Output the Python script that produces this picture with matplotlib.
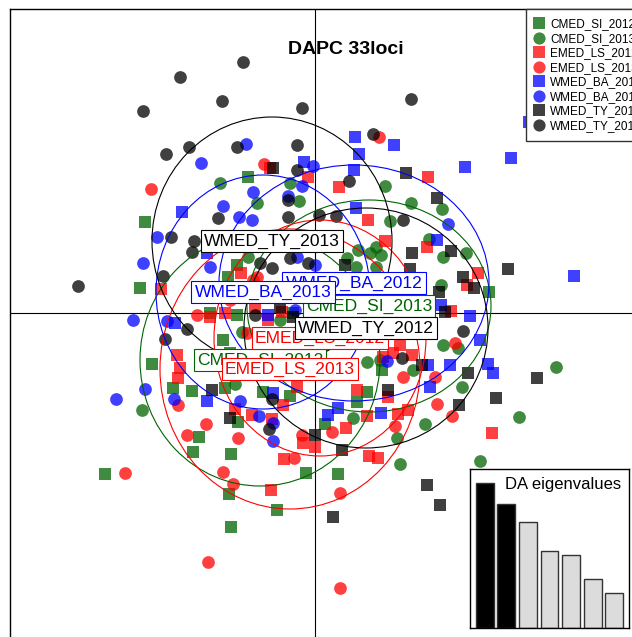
import matplotlib
matplotlib.use("Agg")
import matplotlib.pyplot as plt
from matplotlib.patches import Ellipse
from matplotlib.lines import Line2D

plt.rcParams['font.family'] = ['Liberation Sans', 'DejaVu Sans']

# ---------------- data (LD1, LD2 scores) ----------------
groups = ["CMED_SI_2012", "CMED_SI_2013", "EMED_LS_2012", "EMED_LS_2013",
          "WMED_BA_2012", "WMED_BA_2013", "WMED_TY_2012", "WMED_TY_2013"]
group_colors = ["darkgreen", "darkgreen", "red", "red", "blue", "blue", "black", "black"]
group_markers = ["s", "o", "s", "o", "s", "o", "s", "o"]

si12 = [(-6.7, 13.6), (-17.0, 9.1), (-17.5, 2.5), (-7.8, 4.8), (-8.7, 3.6), (17.4, 2.1),
        (-16.3, -5.1), (-14.2, -7.5), (-12.3, -7.8), (-9.0, -7.5), (-7.7, -10.9), (-5.2, -7.9),
        (-2.5, -8.3), (-11.6, -12.4), (-12.2, -13.9), (-8.4, -14.1), (-21.0, -16.1), (-0.9, -16.0),
        (-8.6, -18.1), (-3.8, -19.7), (-8.4, -21.4), (-9.2, -2.7), (-8.5, -4.0), (-7.8, -0.2),
        (-2.2, 0.0), (-10.5, 0.0), (5.2, -7.9), (6.7, -5.7), (4.2, -8.9), (1.0, -11.1),
        (2.3, -16.1), (-5.3, 2.3), (-1.5, 2.3)]
si13 = [(-9.5, 13.0), (-5.8, 11.0), (-2.5, 13.0), (-1.6, 11.2), (-6.7, 5.6), (-7.3, -1.9),
        (-8.0, -7.1), (-17.3, -9.7), (7.0, 12.7), (9.6, 11.0), (12.7, 10.4), (7.5, 9.2),
        (11.4, 7.4), (12.8, 5.6), (15.1, 6.0), (4.3, 6.3), (6.1, 6.6), (6.6, 5.8), (5.5, 6.0),
        (4.1, 4.6), (6.1, 4.6), (12.6, 2.8), (6.5, -4.7), (5.2, -4.9), (12.8, -3.2), (14.3, -3.5),
        (9.8, -5.7), (14.7, -7.4), (24.1, -5.4), (20.4, -10.4), (16.5, -14.8), (8.5, -15.1),
        (11.0, -11.1), (8.2, -12.5), (3.8, -10.5), (3.2, 5.5), (-3.5, -0.7), (1.5, 1.5)]
ls12 = [(-4.5, 14.5), (-0.7, 13.6), (-15.4, 2.4), (-7.4, 4.0), (2.4, 12.6), (11.3, 13.6),
        (5.3, 9.3), (7.0, 7.2), (11.2, 6.6), (16.3, 4.0), (15.2, 2.8), (13.6, 0.2), (8.5, -3.2),
        (9.7, -4.2), (7.3, -8.4), (4.2, -7.7), (9.3, -9.7), (8.3, -10.1), (5.2, -10.3),
        (3.1, -11.5), (17.7, -12.0), (-1.2, -13.0), (0.0, -13.4), (5.4, -14.3), (6.3, -14.5),
        (-13.8, -4.2), (-13.5, -5.5), (-13.7, -6.5), (-8.0, -9.6), (-6.3, -10.2), (-4.3, -10.6),
        (-3.2, -9.2), (-3.1, -14.6), (-4.4, -17.7), (-9.0, 0.0), (-10.5, -0.4), (-4.7, -0.7),
        (-3.3, 0.1), (-6.0, 0.6), (6.8, -4.4), (7.8, -4.0), (-1.8, -7.4)]
ls13 = [(-5.1, 14.9), (-16.4, 12.4), (6.4, 17.6), (-5.8, 3.6), (14.0, -3.0), (8.8, -6.4),
        (12.0, -6.4), (12.2, -9.1), (13.7, -10.3), (8.0, -11.3), (1.7, -11.9), (2.5, -18.0),
        (2.5, -27.5), (-13.7, -9.2), (-10.9, -11.1), (-12.8, -12.2), (-7.7, -12.5), (-1.3, -12.2),
        (-2.1, -14.5), (-19.0, -16.0), (-9.2, -15.9), (-8.2, -17.1), (-10.7, -24.9), (-11.8, -0.2),
        (-6.8, -2.0), (-6.2, 3.3), (-8.5, 1.3)]
ba12 = [(-1.1, 15.1), (-13.3, 10.1), (-10.8, 6.0), (4.0, 17.6), (7.9, 16.8), (4.4, 15.9),
        (3.9, 14.3), (15.0, 14.6), (19.6, 15.5), (21.4, 19.1), (4.1, 10.5), (12.2, 7.3),
        (25.9, 3.7), (12.6, 0.8), (15.5, -0.3), (16.5, -2.7), (17.3, -5.1), (17.8, -6.0),
        (13.5, -5.2), (11.3, -5.2), (11.5, -7.4), (2.3, -9.5), (1.3, -10.2), (6.6, -10.0),
        (-14.0, -1.0), (-10.8, -8.8), (-4.2, -8.0), (-4.7, -0.2)]
ba13 = [(-6.9, 16.9), (-11.4, 15.0), (-0.2, 14.7), (-6.2, 12.1), (-2.7, 11.7), (-1.3, 12.7),
        (-9.2, 10.7), (-7.6, 9.6), (-6.3, 9.3), (-15.8, 7.6), (-17.2, 5.0), (-10.5, 4.6),
        (-1.8, 5.6), (0.0, 4.8), (13.3, 8.9), (7.2, -4.8), (-18.2, -0.7), (-14.8, -0.8),
        (-17.0, -7.6), (-19.9, -8.6), (-14.1, -8.6), (-7.5, -8.8), (-5.6, -10.3), (-4.2, -11.0),
        (-4.2, -12.8), (-2.0, 0.3)]
ty12 = [(-4.2, 14.5), (9.1, 14.0), (12.2, 11.5), (13.6, 6.2), (9.7, 6.0), (9.5, 4.4),
        (19.3, 4.4), (14.8, 3.6), (15.9, 2.5), (12.4, 2.1), (13.0, 0.1), (3.0, 4.8), (10.7, -5.2),
        (15.3, -6.0), (22.2, -6.5), (18.1, -8.5), (14.4, -9.2), (7.3, -7.7), (2.7, -13.7),
        (0.0, -12.2), (11.2, -17.2), (12.5, -19.2), (1.8, -20.4), (-10.3, -7.7), (-8.5, -10.5),
        (-3.5, 0.6), (-2.2, -0.4)]
ty13 = [(-7.2, 25.1), (-13.5, 23.6), (-9.3, 21.2), (-17.2, 20.2), (-1.3, 20.5), (9.6, 21.4),
        (5.8, 17.9), (-12.6, 16.6), (-14.9, 15.9), (-7.8, 16.6), (-1.8, 16.8), (-1.8, 14.3),
        (-9.7, 9.5), (-2.7, 9.6), (-2.7, 11.3), (-14.4, 7.6), (-12.1, 7.2), (-12.3, 6.1),
        (-15.2, 3.7), (-23.7, 2.7), (-4.3, 4.5), (-5.5, 5.0), (-2.5, 5.5), (-0.7, 5.0),
        (3.4, 13.2), (2.1, 9.7), (0.4, 9.8), (8.8, 9.3), (14.8, -1.8), (8.7, -4.5),
        (-12.8, -1.6), (-15.0, -2.6), (-4.3, -8.6), (-4.6, -11.6), (-6.0, -0.2)]
points = [si12, si13, ls12, ls13, ba12, ba13, ty12, ty13]

# group centres (label positions) and ellipse half-axes
center_x = [-5.5, 5.4, 0.5, -2.5, 3.9, -5.2, 5.1, -4.3]
center_y = [-4.7, 0.7, -2.5, -5.6, 3.0, 2.1, -1.5, 7.2]
ell_rx = [12.0, 12.2, 10.6, 13.0, 13.5, 10.7, 12.2, 12.0]
ell_ry = [12.6, 10.6, 11.8, 14.0, 11.8, 11.7, 12.0, 12.4]

eigenvalues = [14.5, 12.4, 10.6, 7.7, 7.3, 4.9, 3.5]
n_retained = 2

# ---------------- figure ----------------
W, H = 632, 637
fig = plt.figure(figsize=(W / 100, H / 100), dpi=100)
ax = fig.add_axes([10 / W, 0, 622 / W, 628 / H])
ax.set_xlim(-30.5, 31.7)
ax.set_ylim(-32.4, 30.4)
ax.set_xticks([])
ax.set_yticks([])
for s in ["right", "bottom"]:
    ax.spines[s].set_visible(False)
for s in ["left", "top"]:
    ax.spines[s].set_linewidth(1.0)

ax.axhline(0, color="black", lw=0.8, zorder=1)
ax.axvline(0, color="black", lw=0.8, zorder=1)

for pts, col, mk in zip(points, group_colors, group_markers):
    xs = [p[0] for p in pts]
    ys = [p[1] for p in pts]
    ax.scatter(xs, ys, s=84 if mk == "o" else 78, marker=mk, color=col, alpha=0.75,
               linewidths=0, zorder=2)

for cx, cy, rx, ry, col in zip(center_x, center_y, ell_rx, ell_ry, group_colors):
    ax.add_patch(Ellipse((cx, cy), 2 * rx, 2 * ry, fill=False, ec=col, lw=0.8, zorder=3))

for i, (name, cx, cy, col) in enumerate(zip(groups, center_x, center_y, group_colors)):
    ax.text(cx, cy, name, ha="center", va="center", fontsize=12.6, color=col, zorder=10 + i,
            bbox=dict(boxstyle="square,pad=0.18", fc="white", ec=col, lw=0.8))

fig.text(346 / W, 1 - 50 / H, "DAPC 33loci", ha="center", va="center",
         fontsize=14, fontweight="bold")

handles = [Line2D([], [], linestyle="none", marker=mk, markersize=8.8, color=col, alpha=0.75,
                  markeredgewidth=0)
           for col, mk in zip(group_colors, group_markers)]
leg = fig.legend(handles, groups, loc="upper left", bbox_to_anchor=(526 / W, 1 - 9 / H),
                 bbox_transform=fig.transFigure, fontsize=8.5, frameon=True, fancybox=False,
                 framealpha=1, edgecolor="#333333", borderpad=0.8, handlelength=0.6,
                 handletextpad=0.65, labelspacing=0.21, borderaxespad=0)
leg.get_frame().set_linewidth(1.0)
leg.set_zorder(50)

# inset eigenvalue barplot
iax = fig.add_axes([470 / W, 1 - 628 / H, 159 / W, 159 / H])
bar_x = [i * 1.2 + 0.5 for i in range(len(eigenvalues))]
bar_cols = ["black" if i < n_retained else "#dcdcdc" for i in range(len(eigenvalues))]
iax.bar(bar_x, eigenvalues, width=1.0, color=bar_cols, edgecolor="#333333", linewidth=1.0)
iax.set_xlim(-0.33, 8.53)
iax.set_ylim(0, 15.9)
iax.set_xticks([])
iax.set_yticks([])
for s in iax.spines.values():
    s.set_linewidth(1.0)
iax.text(0.95, 0.9, "DA eigenvalues", transform=iax.transAxes, ha="right", va="center",
         fontsize=12)

fig.savefig("out.png", dpi=100)
